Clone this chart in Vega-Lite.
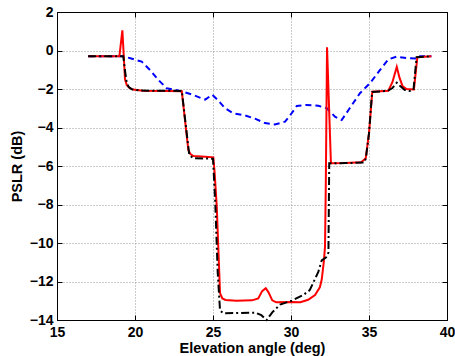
{
  "$schema": "https://vega.github.io/schema/vega-lite/v6.json",
  "width": 390,
  "height": 308,
  "autosize": {"type": "none"},
  "padding": {"left": 57, "top": 12, "right": 8, "bottom": 36},
  "background": "white",
  "config": {
    "view": {"stroke": "black", "strokeWidth": 1},
    "axis": {
      "domainColor": "black",
      "domainWidth": 1,
      "tickColor": "black",
      "tickSize": -5,
      "tickWidth": 1,
      "labelFont": "Liberation Sans",
      "labelFontWeight": "bold",
      "labelFontSize": 14,
      "labelColor": "black",
      "labelFlush": false,
      "labelOverlap": false,
      "titleFont": "Liberation Sans",
      "titleFontWeight": "bold",
      "titleFontSize": 14.5,
      "titleColor": "black",
      "gridColor": "#999999",
      "gridDash": [1, 2],
      "gridOpacity": 1,
      "gridWidth": 1
    }
  },
  "datasets": {
    "blue": [
      {"x": 17, "y": -0.3}, {"x": 19.2, "y": -0.3}, {"x": 19.7, "y": -0.4}, {"x": 20.43, "y": -0.58},
      {"x": 20.96, "y": -1.01}, {"x": 21.5, "y": -1.53}, {"x": 22.03, "y": -1.96}, {"x": 22.88, "y": -2.1},
      {"x": 23.74, "y": -2.31}, {"x": 24.3, "y": -2.5}, {"x": 24.5, "y": -2.55}, {"x": 24.95, "y": -2.3},
      {"x": 25.34, "y": -2.6}, {"x": 25.77, "y": -3.0}, {"x": 26.3, "y": -3.26}, {"x": 27.05, "y": -3.37},
      {"x": 27.69, "y": -3.54}, {"x": 28.33, "y": -3.77}, {"x": 28.97, "y": -3.84}, {"x": 29.62, "y": -3.7},
      {"x": 30.04, "y": -3.26}, {"x": 30.37, "y": -2.88}, {"x": 31.0, "y": -2.83}, {"x": 31.75, "y": -2.87},
      {"x": 32.29, "y": -3.0}, {"x": 32.82, "y": -3.44}, {"x": 33.25, "y": -3.61}, {"x": 33.72, "y": -3.05},
      {"x": 34.42, "y": -2.22}, {"x": 35.06, "y": -1.7}, {"x": 35.71, "y": -1.01}, {"x": 36.24, "y": -0.46},
      {"x": 36.78, "y": -0.32}, {"x": 37.42, "y": -0.4}, {"x": 38.0, "y": -0.42}, {"x": 38.15, "y": -0.3},
      {"x": 39.0, "y": -0.3}
    ],
    "red": [
      {"x": 17, "y": -0.3}, {"x": 19.0, "y": -0.3}, {"x": 19.19, "y": 1.05}, {"x": 19.36, "y": -1.5},
      {"x": 19.47, "y": -1.79}, {"x": 19.65, "y": -1.95}, {"x": 19.87, "y": -2.03}, {"x": 20.5, "y": -2.09},
      {"x": 22.0, "y": -2.11}, {"x": 23.0, "y": -2.12}, {"x": 23.42, "y": -5.17}, {"x": 23.55, "y": -5.38},
      {"x": 23.75, "y": -5.48}, {"x": 24.5, "y": -5.52}, {"x": 25.02, "y": -5.55}, {"x": 25.1, "y": -6.3},
      {"x": 25.24, "y": -8.1}, {"x": 25.45, "y": -12.6}, {"x": 25.6, "y": -12.88}, {"x": 25.8, "y": -12.96},
      {"x": 26.5, "y": -13.0}, {"x": 27.5, "y": -12.98}, {"x": 27.9, "y": -12.88}, {"x": 28.15, "y": -12.5},
      {"x": 28.38, "y": -12.35}, {"x": 28.55, "y": -12.55}, {"x": 28.8, "y": -12.98}, {"x": 29.05, "y": -13.08},
      {"x": 30.0, "y": -13.07}, {"x": 30.6, "y": -13.08}, {"x": 31.1, "y": -12.95}, {"x": 31.54, "y": -12.7},
      {"x": 31.85, "y": -12.3}, {"x": 31.97, "y": -11.9}, {"x": 32.1, "y": -11.0}, {"x": 32.18, "y": -10.2},
      {"x": 32.23, "y": -7.0}, {"x": 32.31, "y": 0.17}, {"x": 32.56, "y": -5.86}, {"x": 33.5, "y": -5.84},
      {"x": 34.5, "y": -5.8}, {"x": 34.79, "y": -5.6}, {"x": 35.0, "y": -4.3}, {"x": 35.21, "y": -2.14},
      {"x": 36.24, "y": -2.09}, {"x": 36.5, "y": -1.65}, {"x": 36.78, "y": -0.85}, {"x": 36.95, "y": -1.4},
      {"x": 37.15, "y": -1.85}, {"x": 37.4, "y": -2.0}, {"x": 37.88, "y": -2.02}, {"x": 38.1, "y": -0.35},
      {"x": 39.0, "y": -0.3}
    ],
    "black": [
      {"x": 17, "y": -0.3}, {"x": 19.25, "y": -0.3}, {"x": 19.35, "y": -1.0}, {"x": 19.47, "y": -1.69},
      {"x": 19.6, "y": -1.9}, {"x": 19.8, "y": -2.02}, {"x": 20.3, "y": -2.08}, {"x": 23.0, "y": -2.1},
      {"x": 23.3, "y": -4.2}, {"x": 23.48, "y": -5.43}, {"x": 23.74, "y": -5.6}, {"x": 25.0, "y": -5.62},
      {"x": 25.15, "y": -8.0}, {"x": 25.3, "y": -11.5}, {"x": 25.45, "y": -13.5}, {"x": 25.66, "y": -13.65},
      {"x": 27.7, "y": -13.62}, {"x": 28.1, "y": -13.75}, {"x": 28.44, "y": -14.0}, {"x": 28.8, "y": -13.6},
      {"x": 29.3, "y": -13.2}, {"x": 30.04, "y": -13.0}, {"x": 30.79, "y": -12.7}, {"x": 31.2, "y": -12.45},
      {"x": 31.75, "y": -11.5}, {"x": 31.97, "y": -10.9}, {"x": 32.25, "y": -10.75}, {"x": 32.4, "y": -10.5},
      {"x": 32.45, "y": -5.86}, {"x": 33.5, "y": -5.85}, {"x": 34.7, "y": -5.82}, {"x": 34.8, "y": -5.6},
      {"x": 35.0, "y": -4.3}, {"x": 35.2, "y": -2.15}, {"x": 36.2, "y": -2.1}, {"x": 36.5, "y": -1.95},
      {"x": 36.78, "y": -1.67}, {"x": 37.0, "y": -1.85}, {"x": 37.3, "y": -2.05}, {"x": 37.63, "y": -2.1},
      {"x": 37.85, "y": -2.05}, {"x": 38.05, "y": -0.35}, {"x": 39.0, "y": -0.3}
    ]
  },
  "layer": [
    {
      "data": {"name": "blue"},
      "mark": {"type": "line", "color": "#0000ff", "strokeWidth": 2, "strokeDash": [6, 4]},
      "encoding": {
        "x": {"field": "x", "type": "quantitative", "scale": {"domain": [15, 40], "nice": false},
          "axis": {"values": [15, 20, 25, 30, 35, 40], "title": "Elevation angle (deg)", "labelPadding": 10,
            "titleBaseline": "alphabetic", "titleY": 32, "titleX": 195}},
        "y": {"field": "y", "type": "quantitative", "scale": {"domain": [-14, 2], "nice": false, "zero": false},
          "axis": {"values": [-14, -12, -10, -8, -6, -4, -2, 0, 2], "title": "PSLR (dB)", "labelPadding": 9,
            "titleBaseline": "alphabetic", "titleX": -36, "titleY": 154}}
      }
    },
    {
      "data": {"name": "red"},
      "mark": {"type": "line", "color": "#ff0000", "strokeWidth": 2},
      "encoding": {
        "x": {"field": "x", "type": "quantitative", "scale": {"domain": [15, 40], "nice": false}, "axis": null},
        "y": {"field": "y", "type": "quantitative", "scale": {"domain": [-14, 2], "nice": false, "zero": false}, "axis": null}
      }
    },
    {
      "data": {"name": "black"},
      "mark": {"type": "line", "color": "#000000", "strokeWidth": 2, "strokeDash": [8, 3, 2, 3]},
      "encoding": {
        "x": {"field": "x", "type": "quantitative", "scale": {"domain": [15, 40], "nice": false}, "axis": null},
        "y": {"field": "y", "type": "quantitative", "scale": {"domain": [-14, 2], "nice": false, "zero": false}, "axis": null}
      }
    },
    {
      "data": {"name": "red"},
      "mark": {"type": "line", "opacity": 0},
      "encoding": {
        "x": {"field": "x", "type": "quantitative", "scale": {"domain": [15, 40], "nice": false},
          "axis": {"orient": "top", "values": [15, 20, 25, 30, 35, 40], "labels": false, "grid": false, "title": null}},
        "y": {"field": "y", "type": "quantitative", "scale": {"domain": [-14, 2], "nice": false, "zero": false},
          "axis": {"orient": "right", "values": [-14, -12, -10, -8, -6, -4, -2, 0, 2], "labels": false, "grid": false, "title": null}}
      }
    }
  ],
  "resolve": {"axis": {"x": "independent", "y": "independent"}}
}
